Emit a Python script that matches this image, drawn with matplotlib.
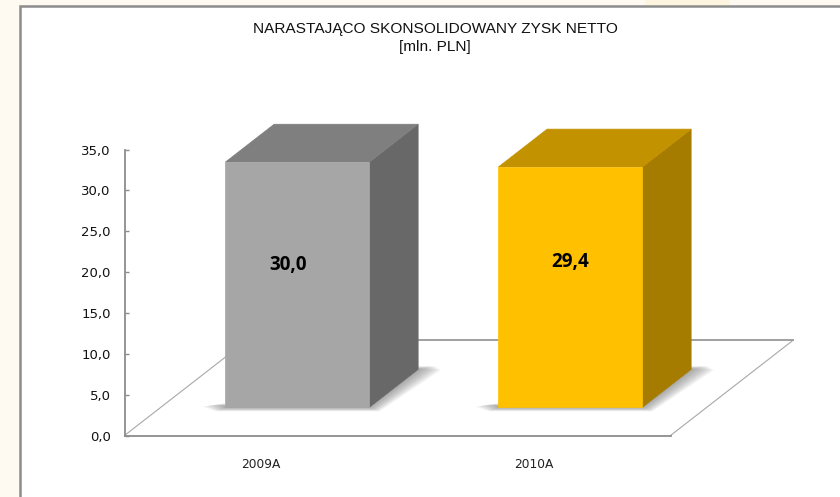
import matplotlib
matplotlib.use('Agg')
import matplotlib.pyplot as plt
from matplotlib.patches import Polygon, Rectangle

categories = ['2009A', '2010A']
values = [30.0, 29.4]
value_labels = ['30,0', '29,4']
label_heights = [17.4, 17.8]
label_shifts = [-0.035, 0.0]
y_ticks = [0, 5, 10, 15, 20, 25, 30, 35]
y_tick_labels = ['0,0', '5,0', '10,0', '15,0', '20,0', '25,0', '30,0', '35,0']
front_colors = ['#a6a6a6', '#ffc000']
top_colors = ['#7f7f7f', '#c39200']
side_colors = ['#686868', '#a67c00']

W, H = 840, 497
FLOOR_DX = 122.5 / 273  # depth of the floor in category units
FLOOR_DY = 95 / (285.5 / 35)  # same in value units
BAR_W = 144 / 273
D_FRONT = 0.297
D_BACK = 0.695


def proj(x, y, d):
    return x + d * FLOOR_DX, y + d * FLOOR_DY


def quad(ax, pts, **kw):
    ax.add_patch(Polygon(pts, closed=True, clip_on=False, **kw))


def draw_shadow(ax, x0, x1):
    # soft shadow on the floor, stacked transparent polygons
    n = 24
    for k in range(n):
        g = 1 - k / n
        ex = 0.085 * g
        ey = 0.5 * g
        pts = [proj(x0 - ex, 0.5 * (1 - g) + 0.05, D_FRONT),
               proj(x0 - ex * 0.4, -ey, D_FRONT),
               proj(x1 + ex * 0.45, -ey, D_FRONT),
               proj(x1 + ex, -ey * 0.2, D_BACK),
               proj(x1 + ex * 0.7, ey * 0.8, D_BACK),
               proj(x1, ey * 0.8, D_BACK),
               proj(x1, ey, D_FRONT),
               proj(x0, ey, D_FRONT)]
        quad(ax, pts, facecolor='#707070', edgecolor='none', alpha=0.03, zorder=2)


def draw_bar(ax, i):
    x0 = i + 0.5 - BAR_W / 2
    x1 = i + 0.5 + BAR_W / 2
    v = values[i]
    draw_shadow(ax, x0, x1)
    # thin same-colour edges so the floor line does not show through the seams
    quad(ax, [proj(x1, 0, D_FRONT), proj(x1, 0, D_BACK), proj(x1, v, D_BACK), proj(x1, v, D_FRONT)],
         facecolor=side_colors[i], edgecolor=side_colors[i], linewidth=0.5, zorder=3)
    quad(ax, [proj(x0, v, D_FRONT), proj(x1, v, D_FRONT), proj(x1, v, D_BACK), proj(x0, v, D_BACK)],
         facecolor=top_colors[i], edgecolor=top_colors[i], linewidth=0.5, zorder=3)
    quad(ax, [proj(x0, 0, D_FRONT), proj(x1, 0, D_FRONT), proj(x1, v, D_FRONT), proj(x0, v, D_FRONT)],
         facecolor=front_colors[i], edgecolor=front_colors[i], linewidth=0.5, zorder=3)
    tx, ty = proj(i + 0.5 + label_shifts[i], label_heights[i], D_FRONT)
    ax.text(tx, ty, value_labels[i], ha='center', va='center', fontsize=13.5,
            fontweight='bold', family='Open Sans', color='black', zorder=4)


fig = plt.figure(figsize=(W / 100, H / 100), dpi=100, facecolor='#fffaf1')

# tinted strip of the slide background above the frame
fig.add_artist(Rectangle((645 / W, 1 - 6 / H), 85 / W, 6 / H, transform=fig.transFigure,
                         facecolor='#fef5e0', edgecolor='none', zorder=-2))
# white chart area with its gray frame
fig.add_artist(Rectangle((20 / W, -0.02), 1, 1 - 5.5 / H + 0.02, transform=fig.transFigure,
                         facecolor='white', edgecolor='#8c8c8c', linewidth=1.8, zorder=-1))

ax = fig.add_axes([124.5 / W, 1 - 435.5 / H, 546 / W, 286 / H])
ax.patch.set_alpha(0)
ax.set_xlim(0, 2)
ax.set_ylim(0, 35)

# floor outline
left_back = proj(0, 0, 1)
right_back = proj(2, 0, 1)
ax.plot([0, left_back[0]], [0, left_back[1]], color='#a8a8a8', lw=0.8, clip_on=False, zorder=1)
ax.plot([2, right_back[0]], [0, right_back[1]], color='#a8a8a8', lw=0.8, clip_on=False, zorder=1)
ax.plot([left_back[0], right_back[0]], [left_back[1], right_back[1]], color='#a0a0a0', lw=1.4,
        clip_on=False, zorder=1)

for i in range(len(categories)):
    draw_bar(ax, i)

for s in ['top', 'right']:
    ax.spines[s].set_visible(False)
for s in ['left', 'bottom']:
    ax.spines[s].set_color('#8c8c8c')
    ax.spines[s].set_linewidth(1.3)

ax.set_yticks(y_ticks)
ax.set_yticklabels(y_tick_labels, family='DejaVu Sans', fontsize=9.5, color='#111111')
ax.tick_params(axis='y', direction='in', length=3, width=1, color='#8c8c8c', pad=10)
ax.set_xticks([0.5, 1.5])
ax.set_xticklabels(categories, family='DejaVu Sans', fontsize=8.8, color='#222222')
ax.tick_params(axis='x', length=0, pad=16)

fig.text(435 / W, 1 - 29 / H, 'NARASTAJĄCO SKONSOLIDOWANY ZYSK NETTO', ha='center', va='center',
         family='Liberation Sans', fontsize=11.1, color='#111111')
fig.text(435 / W, 1 - 47 / H, '[mln. PLN]', ha='center', va='center',
         family='Liberation Sans', fontsize=11.1, color='#111111')

fig.savefig('out.png', dpi=100, facecolor=fig.get_facecolor())
